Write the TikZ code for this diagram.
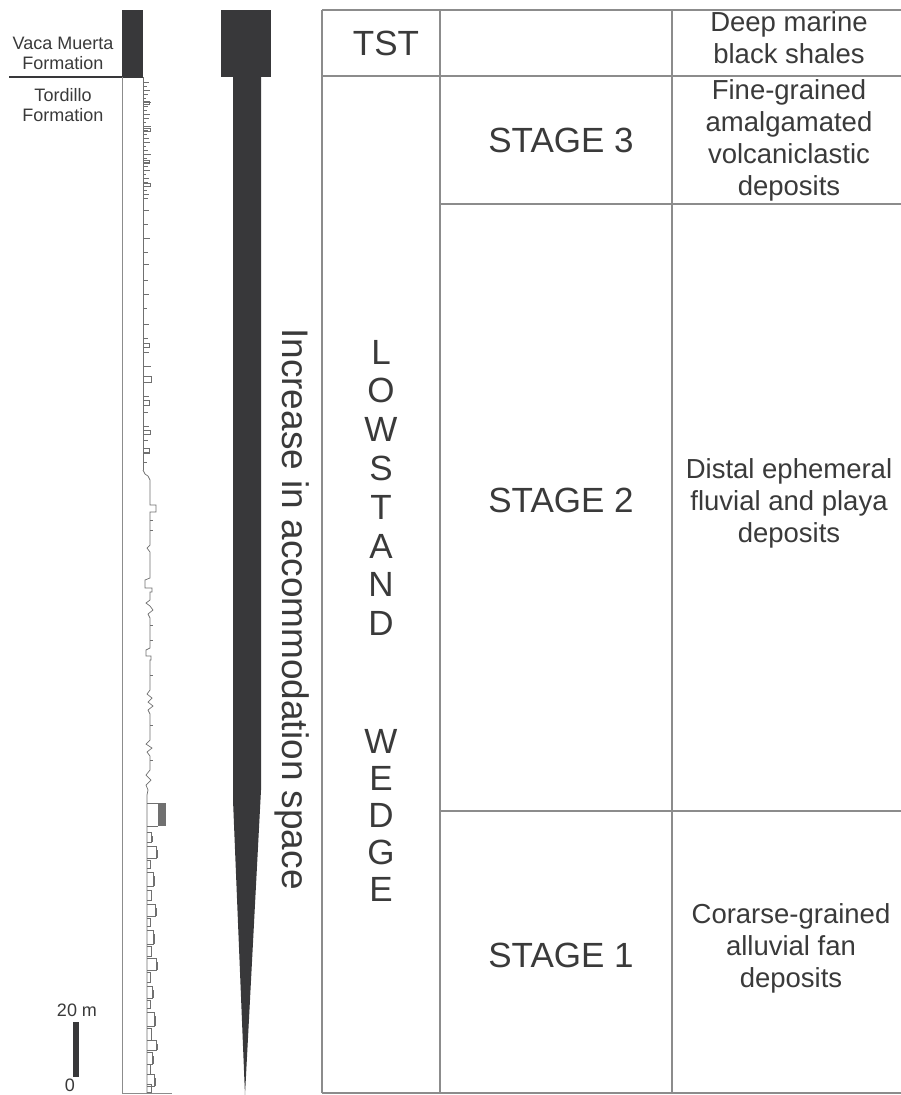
\documentclass[tikz,border=0pt]{standalone}
\usepackage{fontspec}
\setmainfont{Liberation Sans}
\definecolor{txtc}{HTML}{3A3A3A}
\definecolor{linec}{HTML}{8C8C8C}
\definecolor{blkc}{HTML}{38383A}
\definecolor{logc}{HTML}{707070}
\begin{document}
\begin{tikzpicture}[x=1pt,y=-1pt,
  txt/.style={text=txtc, font=\fontsize{27.5}{32}\selectfont, align=center, inner sep=0pt},
  big/.style={text=txtc, font=\fontsize{35}{38}\selectfont, inner sep=0pt},
  small/.style={text=txtc, font=\fontsize{18}{20}\selectfont, align=center, inner sep=0pt},
  gridl/.style={draw=linec, line width=1.3pt},
  blk/.style={fill=blkc, draw=none},
  logl/.style={draw=logc, line width=0.7pt}]
\useasboundingbox[fill=white] (0,0) rectangle (901,1095);

% ---------- left: formations ----------
\fill[blk] (122,10) rectangle (143,77);
\draw[blkc, line width=2pt] (9,77) -- (143,77);
\draw[linec, line width=1pt] (122,77) -- (122,1093) -- (172,1093);
\node[small] (vm) at (63,53) {Vaca Muerta\\Formation};
\node[small] (tf) at (63,105) {Tordillo\\Formation};

% log trace: upper part
\draw[logl] (143,77) -- (143,470);
\foreach \y/\w in {82/6,86/4,90/7,94/5,98/3,102/8,106/5,110/4,114/7,118/6,122/3,126/8,130/5,134/4,138/6,142/7,146/3,150/5,154/8,158/4,162/6,166/5,170/7,174/3,178/6,182/5,186/8,190/4,194/6,198/5,
  210/6,224/5,238/7,252/5,264/6,280/5,294/6,308/4,324/6,338/5,352/6,366/8,382/5,396/6,412/5,426/6,440/5,452/6,462/4}
  \draw[logl] (143,\y) -- ++(\w,0);
\foreach \y/\w/\h in {101/6/3,128/7/3,160/6/3,183/7/3,343/6/4,376/8/6,400/6/5,430/7/4,448/6/5}
  \draw[logl] (143,\y) -| ++(\w,\h) -- ++(-\w,0);
% middle wavy part
\draw[logl] (143,470) -- (145,474) -- (148,476) -- (150,480) -- (150,505) -- (156,505) -- (156,512) -- (150,512)
  -- (150,545) -- (147,548) -- (150,552) -- (150,578) -- (145,580) -- (145,588) -- (152,588) -- (152,592) -- (150,592)
  -- (150,600) -- (146,603) -- (150,606) -- (153,610) -- (148,614) -- (150,618) -- (150,648) -- (146,650) -- (146,656) -- (151,656) -- (151,660) -- (150,660)
  -- (150,690) -- (147,694) -- (152,698) -- (148,702) -- (153,706) -- (148,710) -- (150,714) -- (150,740) -- (146,744) -- (152,748) -- (147,752) -- (150,756)
  -- (150,770) -- (146,775) -- (151,780) -- (146,785) -- (148,790) -- (147,795) -- (147,1093);
\foreach \y/\w in {520/3,530/3,625/3,640/3,675/3,725/3,760/3}
  \draw[logl] (150,\y) -- ++(\w,0);
% lower part
\fill[logc] (158,803) rectangle (166,826);
\draw[logl] (147,803) -- (158,803);
\draw[logl] (147,826) -- (158,826);
\foreach \y/\w/\h in {832/4/10,846/9/12,860/3/8,872/6/14,890/4/10,904/8/12,918/3/8,930/6/14,946/4/10,958/9/12,972/3/10,986/5/12,1000/3/8,1012/7/14,1028/4/12,1040/9/10,1052/5/12,1064/3/10,1074/7/12,1084/4/8}
  \draw[logl] (147,\y) -| ++(\w,\h) -- ++(-\w,0);
\foreach \y/\x/\h in {836/151/6,850/156/8,876/153/10,908/155/8,934/153/10,962/156/8,990/152/8,1016/154/10,1044/156/6,1056/152/8,1078/154/8}
  \fill[logc] (\x,\y) rectangle ++(2,\h);

% scale bar
\fill[blk] (73,1022) rectangle (79,1077);
\node[small] (s20) at (77,1010) {20 m};
\node[small] (s0) at (70,1085) {0};

% ---------- wedge ----------
\fill[blk] (221,10) rectangle (271,77);
\fill[blk] (233,76) -- (261,76) -- (261,790) -- (245,1095) -- (233,800) -- cycle;
\node[big, font=\fontsize{37}{40}\selectfont, rotate=-90] (acc) at (292,609) {Increase in accommodation space};

% ---------- table ----------
\draw[gridl] (322,10) -- (901,10);
\draw[gridl] (322,76) -- (901,76);
\draw[gridl] (440,204) -- (901,204);
\draw[gridl] (440,811) -- (901,811);
\draw[gridl] (322,1093) -- (901,1093);
\draw[gridl] (322,10) -- (322,1093);
\draw[gridl] (440,10) -- (440,1093);
\draw[gridl] (672,10) -- (672,1093);

\node[big] (tst) at (386,43) {TST};
\foreach \l [count=\i] in {L,O,W,S,T,A,N,D}
  \node[big] (lw\i) at (381,{352+(\i-1)*38.8}) {\l};
\foreach \l [count=\i] in {W,E,D,G,E}
  \node[big] (wg\i) at (381,{741+(\i-1)*37}) {\l};

\node[big] (st3) at (561,140) {STAGE 3};
\node[big] (st2) at (561,500) {STAGE 2};
\node[big] (st1) at (561,955) {STAGE 1};

\node[txt] (d1) at (789,38) {Deep marine\\black shales};
\node[txt] (d2) at (789,140) {Fine-grained\\amalgamated\\volcaniclastic\\deposits};
\node[txt] (d3) at (789,503) {Distal ephemeral\\fluvial and playa\\deposits};
\node[txt] (d4) at (791,948) {Corarse-grained\\alluvial fan\\deposits};
\end{tikzpicture}
\end{document}
